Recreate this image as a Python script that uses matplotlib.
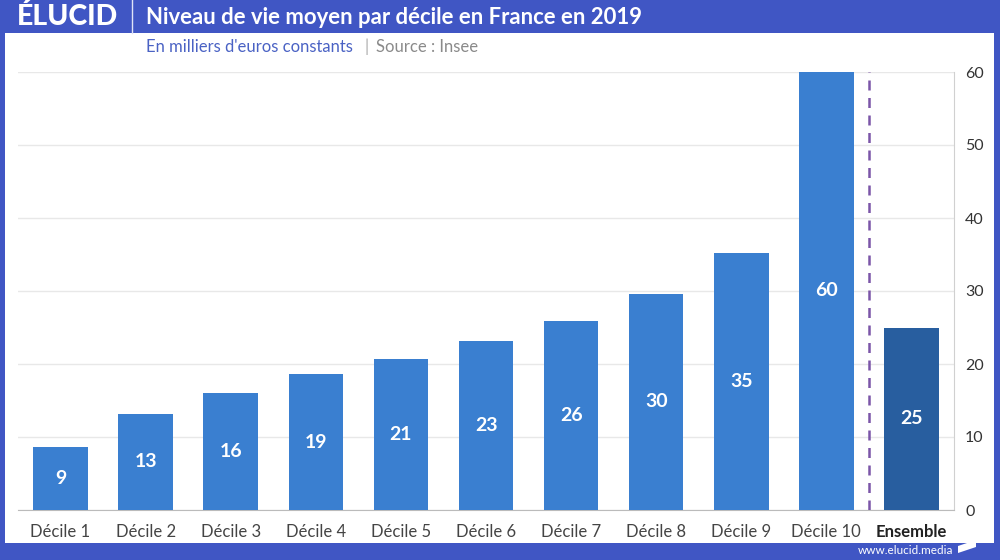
import matplotlib.pyplot as plt
from matplotlib.patches import Rectangle, Polygon

plt.rcParams['font.family'] = ['Lato', 'DejaVu Sans']

categories = ['Décile 1', 'Décile 2', 'Décile 3', 'Décile 4', 'Décile 5',
              'Décile 6', 'Décile 7', 'Décile 8', 'Décile 9', 'Décile 10',
              'Ensemble']
values = [8.6, 13.2, 16.0, 18.6, 20.7, 23.1, 25.9, 29.6, 35.2, 60.0, 25.0]
yticks = [0, 10, 20, 30, 40, 50, 60]

blue_frame = '#4056c4'
bar_col = '#3a7fd0'
ens_col = '#285e9f'

fig = plt.figure(figsize=(10, 5.6), dpi=100, facecolor=blue_frame)

def fy(py):
    # pixel row -> figure coord
    return 1 - py / 560

# white panel
fig.patches.append(Rectangle((0.005, fy(543)), 0.989, 510 / 560,
                             transform=fig.transFigure, facecolor='white',
                             edgecolor='none', zorder=-10))

ax = fig.add_axes([0.018, fy(510), 0.936, 438 / 560])
ax.set_facecolor('white')

x = list(range(len(categories)))
colors = [bar_col] * 10 + [ens_col]
bars = ax.bar(x, values, width=0.64, color=colors, zorder=3)

for b, v in zip(bars, values):
    ax.text(b.get_x() + b.get_width() / 2, v / 2, f'{v:.0f}',
            ha='center', va='center', color='white', fontsize=14,
            fontweight='bold', zorder=4)

# separation Ensemble
ax.axvline(9.5, color='#7b55a8', lw=1.8, ls=(0, (4, 3)), zorder=4)

ax.set_xlim(-0.5, 10.5)
ax.set_ylim(0, 60)
ax.set_yticks(yticks)
ax.yaxis.tick_right()
ax.tick_params(axis='y', length=0, pad=8, labelsize=11.5, labelcolor='#333333')
ax.tick_params(axis='x', length=0, pad=10, labelsize=12, labelcolor='#444444')
ax.set_xticks(x)
ax.set_xticklabels(categories)
lbl = ax.get_xticklabels()[-1]
lbl.set_fontweight('bold')
lbl.set_color('#222222')

ax.grid(axis='y', color='#e8e8e8', lw=1, zorder=0)
for s in ['top', 'left']:
    ax.spines[s].set_visible(False)
ax.spines['right'].set_color('#d0d0d0')
ax.spines['bottom'].set_color('#bbbbbb')

# header
fig.text(0.017, fy(17), 'ÉLUCID', color='white', fontsize=20.5,
         fontweight='black', va='center', ha='left')
fig.lines.append(plt.Line2D([0.132, 0.132], [fy(33), 1.0],
                            transform=fig.transFigure, color='#dfe3f7', lw=1))
fig.text(0.146, fy(18), 'Niveau de vie moyen par décile en France en 2019',
         color='white', fontsize=15.9, fontweight='bold', va='center', ha='left')
fig.text(0.146, fy(47), "En milliers d'euros constants", color='#4a62c4',
         fontsize=12, va='center', ha='left')
fig.text(0.365, fy(47), '|', color='#aaaaaa', fontsize=12,
         va='center', ha='left')
fig.text(0.376, fy(47), 'Source : Insee', color='#8a8a8a', fontsize=12,
         va='center', ha='left')

# footer
fig.text(0.953, fy(551), 'www.elucid.media', color='white', fontsize=8.5,
         va='center', ha='right')
fig.patches.append(Polygon([(0.958, fy(553)), (0.976, fy(547)),
                            (0.976, fy(540)), (0.958, fy(546))],
                           closed=True, transform=fig.transFigure,
                           facecolor='white', edgecolor='none'))

fig.savefig('out.png', dpi=100, facecolor=blue_frame)
